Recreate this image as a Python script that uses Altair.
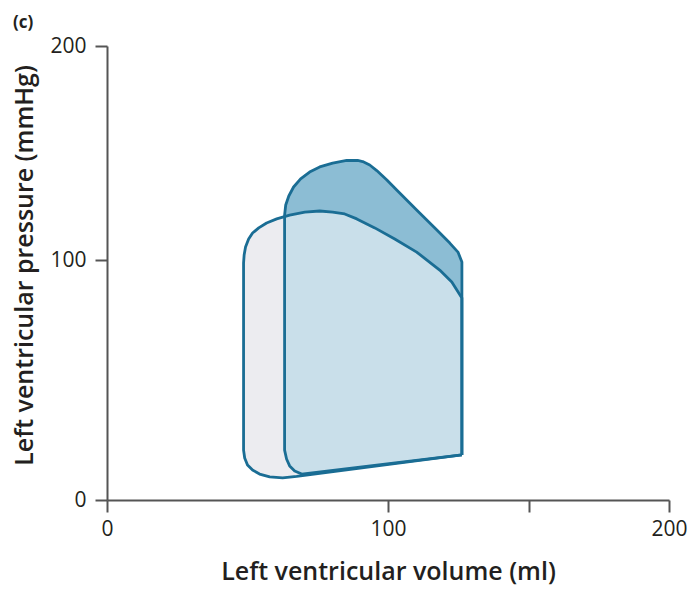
import altair as alt
import pandas as pd

# Baseline loop (grey): volume (ml) and pressure (mmHg), in drawing order
gray_V = [126.3, 67.5, 62.5, 57.9, 54.3, 51.8, 50.0, 49.0, 48.6, 48.6, 48.8, 49.3, 50.4,
          51.8, 54.0, 56.8, 60.4, 65.0, 70.4, 75.7, 80.3, 84.6, 88.9, 95.3, 102.4, 110.2,
          118.4, 122.7, 126.3]
gray_P = [18.8, 9.8, 9.2, 9.6, 10.8, 12.5, 14.6, 17.5, 20.8, 98.8, 102.3, 106.1, 109.8,
          112.6, 115.0, 117.3, 119.2, 121.0, 122.4, 122.9, 122.4, 121.5, 119.2, 115.0, 109.8,
          103.7, 95.8, 90.8, 84.2]

# Second loop (blue)
blue_V = [126.3, 69.3, 66.8, 65.0, 63.9, 63.2, 63.2, 63.6, 64.7, 66.4, 68.9, 72.1, 75.7,
          80.3, 85.3, 89.2, 91.0, 93.5, 96.0, 99.6, 103.1, 110.2, 117.4, 122.0, 124.9, 126.3]
blue_P = [18.8, 10.8, 12.1, 14.2, 17.1, 20.8, 121.0, 125.7, 129.9, 134.1, 137.9, 141.1, 143.5,
          145.3, 146.5, 146.5, 146.0, 144.4, 141.8, 137.4, 132.7, 123.4, 114.0, 107.9, 103.7,
          99.2]

x_ticks = [0, 100, 150, 200]
y_ticks = [0, 100, 200]

STROKE = "#1a6d94"
DARK = "#8cbdd4"
LIGHT = "#c9dfea"
GREY = "#ececf0"
AXIS = "#555555"
TEXT = "#231f20"
FONT = "Open Sans"


def closed(V, P):
    V2 = list(V) + [V[0]]
    P2 = list(P) + [P[0]]
    return pd.DataFrame({"V": V2, "P": P2, "i": list(range(len(V2)))})


gray_df = closed(gray_V, gray_P)
blue_df = closed(blue_V, blue_P)

# region of the blue loop lying above the grey loop's upper curve
blue_top = [(v, p) for v, p in zip(blue_V, blue_P) if p >= 95]
gray_top = [(v, p) for v, p in zip(gray_V, gray_P) if v >= 63.2 and p >= 80]
dark_pts = blue_top + list(reversed(gray_top))
dark_df = closed([a for a, _ in dark_pts], [b for _, b in dark_pts])

xscale = alt.Scale(domain=[0, 200], nice=False, zero=False)
yscale = alt.Scale(domain=[0, 100, 200], range=[454, 214, 0], nice=False, zero=False)

xaxis = alt.Axis(
    values=x_ticks, labelExpr="datum.value == 150 ? '' : datum.label",
    grid=False, tickSize=12, tickWidth=2, tickColor=AXIS, domainColor=AXIS, domainWidth=2,
    labelFont=FONT, labelFontSize=21, labelFontWeight=500, labelColor=TEXT, labelPadding=6,
    labelFlush=False, labelOverlap=False,
    title="Left ventricular volume (ml)", titleFont=FONT, titleFontSize=25, titleFontWeight=600,
    titleColor=TEXT, titleBaseline="alphabetic", titleAlign="center", titleX=281, titleY=79,
)
yaxis = alt.Axis(
    values=y_ticks, grid=False, tickSize=12, tickWidth=2, tickColor=AXIS, domainColor=AXIS,
    domainWidth=2, labelFont=FONT, labelFontSize=21, labelFontWeight=500, labelColor=TEXT,
    labelPadding=9, labelFlush=False, labelOverlap=False,
    title="Left ventricular pressure (mmHg)", titleFont=FONT, titleFontSize=25,
    titleFontWeight=600, titleColor=TEXT, titleBaseline="alphabetic", titleAlign="center",
    titleX=-75, titleY=219, titleAngle=270,
)

enc = dict(
    x=alt.X("V:Q", scale=xscale, axis=xaxis),
    y=alt.Y("P:Q", scale=yscale, axis=yaxis),
    order=alt.Order("i:Q"),
)

gray_fill = alt.Chart(gray_df).mark_line(filled=True, fill=GREY, strokeWidth=0).encode(**enc)
blue_fill = alt.Chart(blue_df).mark_line(filled=True, fill=LIGHT, strokeWidth=0).encode(**enc)
dark_fill = alt.Chart(dark_df).mark_line(filled=True, fill=DARK, strokeWidth=0).encode(**enc)
gray_line = alt.Chart(gray_df).mark_line(color=STROKE, strokeWidth=2.8, strokeJoin="round").encode(**enc)
blue_line = alt.Chart(blue_df).mark_line(color=STROKE, strokeWidth=2.8, strokeJoin="round").encode(**enc)

chart = alt.layer(gray_fill, blue_fill, dark_fill, gray_line, blue_line).properties(
    width=562,
    height=454,
    autosize=alt.AutoSizeParams(type="none"),
    padding={"left": 107, "top": 46, "right": 21, "bottom": 91},
    title=alt.TitleParams("(c)", anchor="start", frame="group", font=FONT, fontSize=17,
                          fontWeight="bold", color=TEXT, dx=-94, dy=1),
).configure_view(stroke=None)

chart.save("out.html", embed_options={"renderer": "svg", "actions": False})
